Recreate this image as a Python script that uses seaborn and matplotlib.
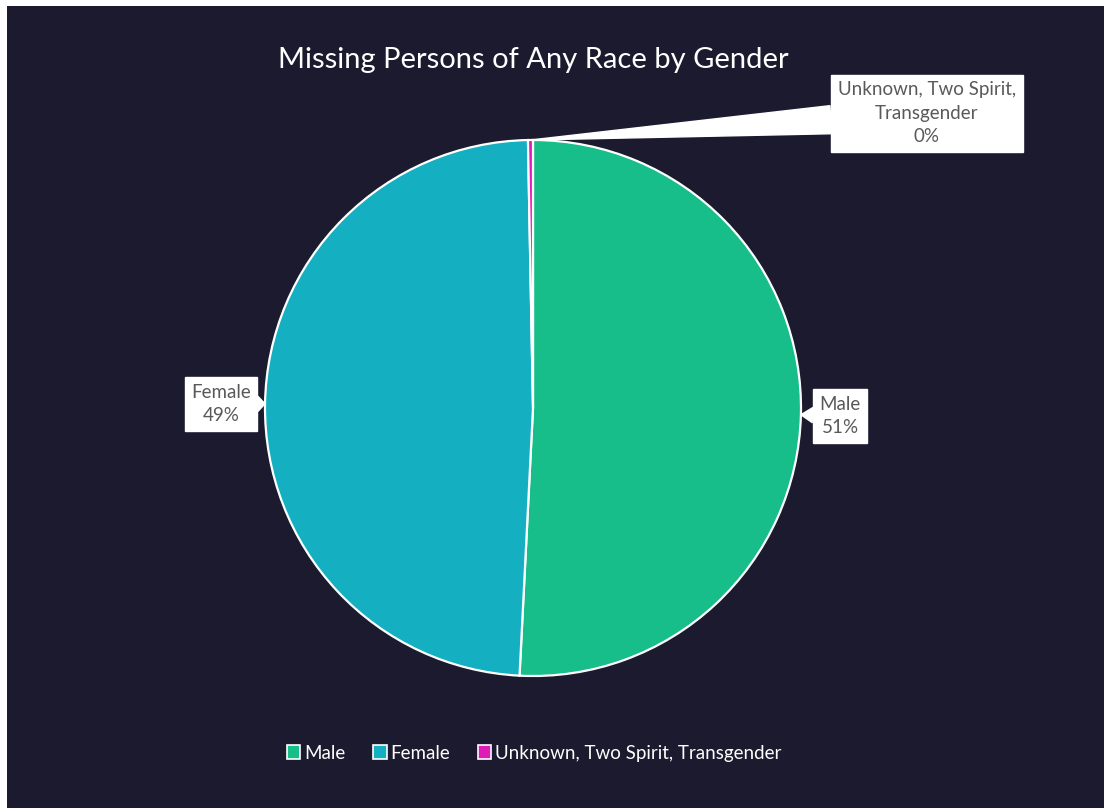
"""
Missing Persons of Any Race by Gender - pie chart with callout labels
"""

import numpy as np
import seaborn as sns
import matplotlib.pyplot as plt
from matplotlib.patches import Rectangle, Patch

# ─── DATA ────────────────────────────────────────────────────────────────────
categories = ["Male", "Female", "Unknown, Two Spirit, Transgender"]
shares     = [50.8, 48.9, 0.3]          # percent
labels     = ["Male\n51%", "Female\n49%", "Unknown, Two Spirit,\nTransgender\n0%"]
colors     = ["#17BE8A", "#14AFC1", "#E01AB5"]

# ─── STYLE ───────────────────────────────────────────────────────────────────
BG       = "#1C1A2E"
LABEL_FG = "#595959"
sns.set_theme(style="white")
sns.set_palette(colors)
plt.rcParams["font.family"] = ["Lato", "DejaVu Sans"]

fig = plt.figure(figsize=(11.04, 8.08), dpi=100)
fig.patch.set_facecolor(BG)
# thin white strips along the top and left edge (screenshot border)
fig.add_artist(Rectangle((0, 1 - 6 / 808), 1, 6 / 808, transform=fig.transFigure,
                         facecolor="white", edgecolor="none", zorder=0))
fig.add_artist(Rectangle((0, 0), 7 / 1104, 1, transform=fig.transFigure,
                         facecolor="white", edgecolor="none", zorder=0))

# pie axes: centre ~ (533, 408) px, radius ~ 268 px
cx, cy, r = 533 / 1104, 1 - 408 / 808, 268
w, h = 2 * r / 1104, 2 * r / 808
ax = fig.add_axes([cx - w / 2, cy - h / 2, w, h])
ax.set_facecolor("none")

wedges, _ = ax.pie(shares, colors=sns.color_palette(), startangle=90,
                   counterclock=False, radius=1.0,
                   wedgeprops=dict(edgecolor="white", linewidth=1.6))
ax.set_xlim(-1, 1)
ax.set_ylim(-1, 1)
ax.set_aspect("equal")
ax.axis("off")

# ─── CALLOUT LABELS ──────────────────────────────────────────────────────────
text_pos   = [(1.146, -0.03), (-1.164, 0.015), (1.47, 1.10)]
tail_width = [0.8, 0.8, 1.5]
for wdg, lab, tpos, tw in zip(wedges, labels, text_pos, tail_width):
    mid = np.deg2rad((wdg.theta1 + wdg.theta2) / 2)
    tip = (np.cos(mid), np.sin(mid))
    ax.annotate(lab, xy=tip, xytext=tpos, ha="center", va="center",
                fontsize=13.5, color=LABEL_FG, linespacing=1.45,
                annotation_clip=False,
                bbox=dict(boxstyle="square,pad=0.35", facecolor="white",
                          edgecolor="white"),
                arrowprops=dict(arrowstyle=f"wedge,tail_width={tw}",
                                facecolor="white", edgecolor="white",
                                shrinkA=0, shrinkB=0))

# ─── TITLE + LEGEND ──────────────────────────────────────────────────────────
fig.text(0.483, 0.926, "Missing Persons of Any Race by Gender",
         ha="center", va="center", color="white", fontsize=21)

handles = [Patch(facecolor=c, edgecolor="white", linewidth=1.2) for c in colors]
leg = fig.legend(handles, categories, loc="center", bbox_to_anchor=(0.484, 0.068),
                 ncol=3, frameon=False, fontsize=13.5, handlelength=0.7,
                 handleheight=0.7, handletextpad=0.2, columnspacing=1.5)
for t in leg.get_texts():
    t.set_color("white")

fig.savefig("out.png", dpi=100, facecolor=fig.get_facecolor())
